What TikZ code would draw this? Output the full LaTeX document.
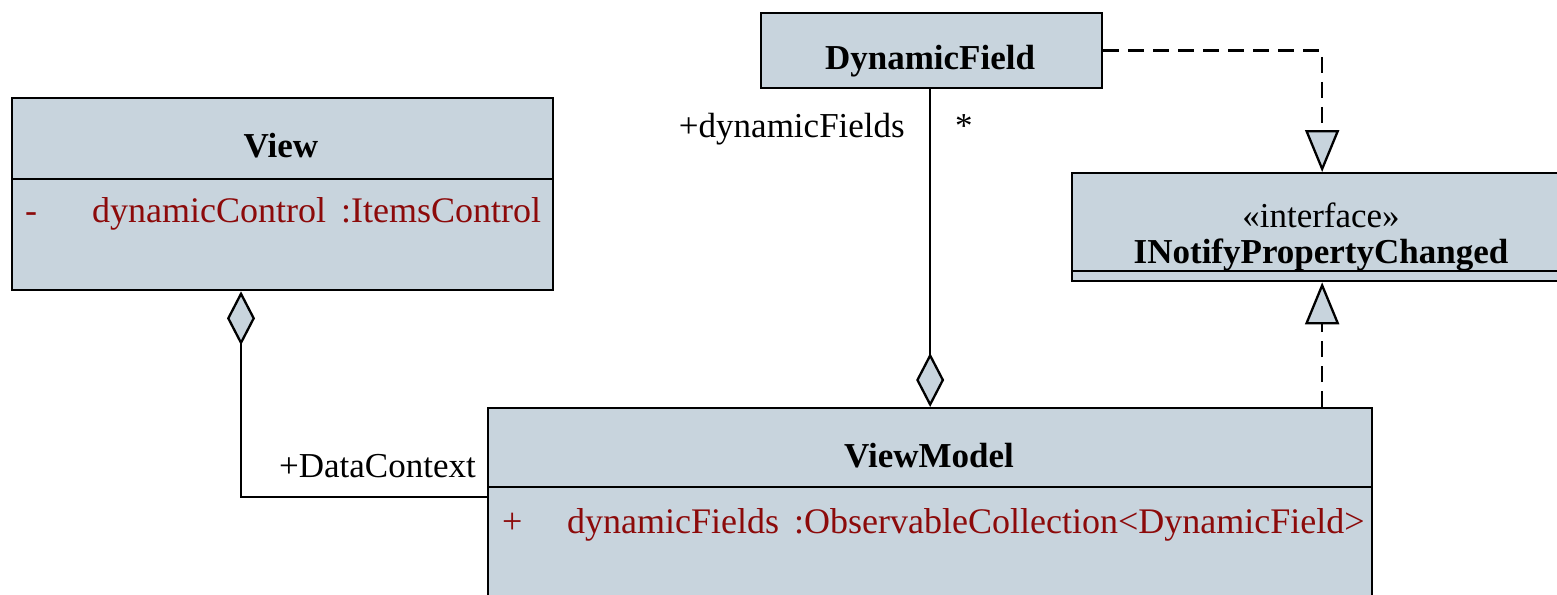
\documentclass[tikz,border=0pt]{standalone}
\usepackage{fontspec}
\setmainfont{Liberation Serif}
\usetikzlibrary{positioning, arrows.meta}

\definecolor{classfill}{RGB}{200,212,221}
\definecolor{attrred}{RGB}{140,10,10}
\newcommand{\umlfont}{\fontsize{35}{42}\selectfont}

\tikzset{
  classbox/.style={draw, fill=classfill, line width=2.3pt, anchor=north west, inner sep=0pt},
  classname/.style={font=\umlfont\bfseries, anchor=base},
  attr/.style={text=attrred, anchor=base west, font=\fontsize{36}{42}\selectfont},
  aggreg/.style={line width=2.3pt, {Diamond[length=54pt,width=28pt,fill=classfill]}-},
  realize/.style={line width=2.3pt, dash pattern=on 16pt off 9pt,
    -{Triangle[length=42pt,width=34pt,fill=classfill]}},
}

\begin{document}
\begin{tikzpicture}[x=1pt, y=-1pt, every node/.style={font=\umlfont, inner sep=0pt}]
\useasboundingbox (0,0) rectangle (1557,594);

\node[classbox, minimum width=541pt, minimum height=192pt] (view) at (11,97) {};
\draw[line width=2.3pt] ([yshift=-82pt]view.north west) -- ([yshift=-82pt]view.north east);
\node[classname] (viewname) at (281,157) {View};
\node[attr] (viewvis) at (25,222) {-};
\node[attr] (viewattr) at (92,222) {dynamicControl\, :ItemsControl};

\node[classbox, minimum width=341pt, minimum height=75pt] (df) at (760,12) {};
\node[classname] (dfname) at (930,70) {DynamicField};

\node[classbox, minimum width=500pt, minimum height=108pt] (iface) at (1071,172) {};
\draw[line width=2.3pt] ([yshift=-99pt]iface.north west) -- ([yshift=-99pt]iface.north east);
\node[anchor=base] (ifacestereo) at (1321,227) {«interface»};
\node[classname] (ifacename) at (1321,263) {INotifyPropertyChanged};

\node[classbox, minimum width=884pt, minimum height=200pt] (vm) at (487,407) {};
\draw[line width=2.3pt] ([yshift=-80pt]vm.north west) -- ([yshift=-80pt]vm.north east);
\node[classname] (vmname) at (929,467) {ViewModel};
\node[attr] (vmvis) at (502,533) {+};
\node[attr] (vmattr) at (567,533) {dynamicFields\, :ObservableCollection<DynamicField>};

\coordinate (corner) at (241,497);
\draw[aggreg] (view.south -| corner) -- (corner) -- (corner -| vm.west);
\node[anchor=base east] (dclabel) at (476,477) {+DataContext};

\draw[aggreg] (vm.north) -- (vm.north |- df.south);
\node[anchor=base east] (dflabel) at (905,137) {+dynamicFields};
\node[anchor=base west] (dfmult) at (955,137) {*};

\draw[realize] (df.east) -| (iface.north);
\draw[realize] (iface.south |- vm.north) -- (iface.south);
\end{tikzpicture}
\end{document}
